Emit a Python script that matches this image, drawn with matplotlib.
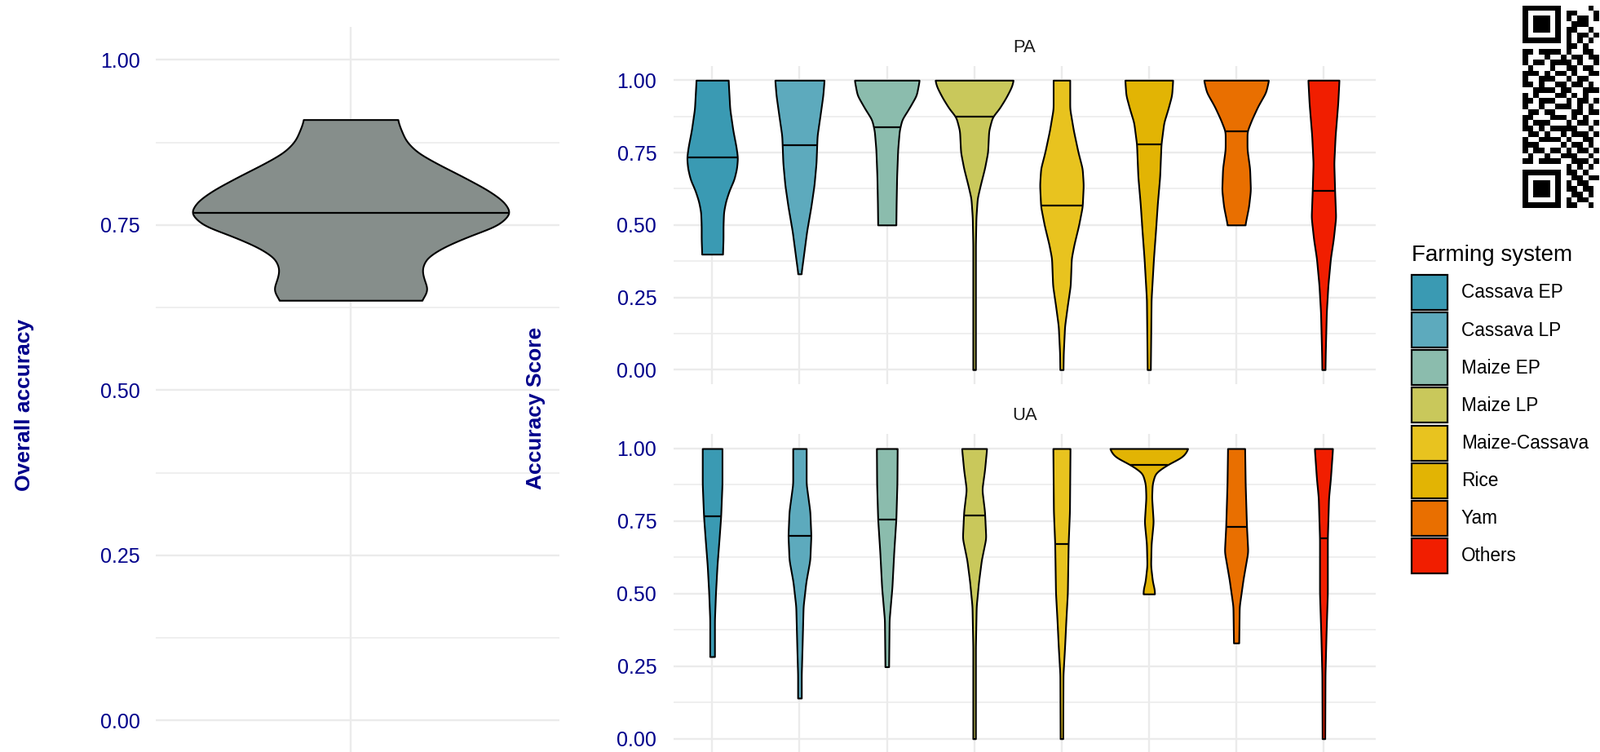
import numpy as np
import matplotlib
matplotlib.use("Agg")
from matplotlib import pyplot as plt
from matplotlib import transforms
from matplotlib.patches import Patch

plt.rcParams['font.family'] = ['Liberation Sans', 'DejaVu Sans']

W, H = 1962, 922

systems = ["Cassava EP", "Cassava LP", "Maize EP", "Maize LP",
           "Maize-Cassava", "Rice", "Yam", "Others"]
colours = ["#3A9AB3", "#5DAABD", "#8BBCAD", "#C9C85B",
           "#E8C31F", "#E2B404", "#E96F00", "#F11E00"]
ticks = [0.0, 0.25, 0.5, 0.75, 1.0]
tick_labels = ["0.00", "0.25", "0.50", "0.75", "1.00"]

# overall accuracy violin, half width (x units) read at several scores
oa_score = [0.9095, 0.897, 0.877, 0.860, 0.844, 0.823, 0.803, 0.786, 0.768,
            0.749, 0.733, 0.716, 0.700, 0.683, 0.667, 0.653, 0.642, 0.636]
oa_width = [0.131, 0.139, 0.155, 0.186, 0.238, 0.315, 0.384, 0.429, 0.450,
            0.413, 0.331, 0.258, 0.212, 0.199, 0.206, 0.217, 0.208, 0.196]
oa_median = 0.768

# producer's accuracy (PA)
pa_score = [
    [1.000, 0.901, 0.826, 0.770, 0.732, 0.695, 0.657, 0.620, 0.582, 0.545, 0.498, 0.451, 0.399],
    [1.000, 0.948, 0.883, 0.808, 0.714, 0.638, 0.563, 0.479, 0.385, 0.331],
    [1.000, 0.948, 0.901, 0.864, 0.826, 0.761, 0.667, 0.573, 0.500],
    [1.000, 0.977, 0.939, 0.901, 0.873, 0.826, 0.751, 0.695, 0.638, 0.592, 0.526, 0.432, 0.000],
    [1.000, 0.901, 0.826, 0.751, 0.695, 0.638, 0.563, 0.498, 0.432, 0.385, 0.291, 0.216, 0.150, 0.056, 0.000],
    [1.000, 0.948, 0.901, 0.854, 0.779, 0.667, 0.573, 0.479, 0.385, 0.244, 0.000],
    [1.000, 0.958, 0.911, 0.864, 0.823, 0.761, 0.695, 0.620, 0.563, 0.500],
    [1.000, 0.920, 0.808, 0.714, 0.620, 0.526, 0.451, 0.385, 0.291, 0.197, 0.056, 0.000],
]
pa_width = [
    [0.184, 0.202, 0.238, 0.274, 0.291, 0.280, 0.250, 0.196, 0.155, 0.131, 0.125, 0.125, 0.119],
    [0.282, 0.268, 0.238, 0.202, 0.190, 0.167, 0.131, 0.083, 0.042, 0.018],
    [0.372, 0.339, 0.250, 0.172, 0.143, 0.125, 0.113, 0.107, 0.104],
    [0.449, 0.428, 0.363, 0.285, 0.208, 0.167, 0.155, 0.119, 0.071, 0.036, 0.021, 0.015, 0.015],
    [0.095, 0.095, 0.137, 0.190, 0.238, 0.250, 0.238, 0.196, 0.143, 0.113, 0.101, 0.065, 0.036, 0.021, 0.018],
    [0.274, 0.262, 0.220, 0.172, 0.140, 0.125, 0.098, 0.077, 0.054, 0.027, 0.018],
    [0.372, 0.339, 0.250, 0.178, 0.125, 0.125, 0.155, 0.164, 0.143, 0.101],
    [0.178, 0.164, 0.134, 0.119, 0.128, 0.140, 0.113, 0.080, 0.051, 0.033, 0.021, 0.018],
]
pa_median = [0.732, 0.775, 0.838, 0.873, 0.566, 0.777, 0.823, 0.617]

# user's accuracy (UA)
ua_score = [
    [1.000, 0.878, 0.766, 0.691, 0.597, 0.503, 0.410, 0.283],
    [1.000, 0.878, 0.784, 0.700, 0.616, 0.541, 0.456, 0.316, 0.222, 0.140],
    [1.000, 0.878, 0.756, 0.644, 0.522, 0.410, 0.248],
    [1.000, 0.925, 0.859, 0.784, 0.691, 0.616, 0.541, 0.456, 0.316, 0.000],
    [1.000, 0.784, 0.672, 0.503, 0.410, 0.316, 0.222, 0.000],
    [1.000, 0.972, 0.944, 0.916, 0.878, 0.831, 0.747, 0.672, 0.597, 0.541, 0.513, 0.499],
    [1.000, 0.878, 0.731, 0.644, 0.550, 0.456, 0.330],
    [1.000, 0.897, 0.831, 0.691, 0.503, 0.363, 0.222, 0.000],
]
ua_width = [
    [0.113, 0.113, 0.098, 0.080, 0.056, 0.039, 0.027, 0.027],
    [0.077, 0.077, 0.119, 0.131, 0.119, 0.074, 0.042, 0.030, 0.021, 0.021],
    [0.119, 0.116, 0.104, 0.080, 0.059, 0.027, 0.021],
    [0.143, 0.119, 0.089, 0.119, 0.134, 0.083, 0.051, 0.024, 0.015, 0.015],
    [0.098, 0.092, 0.077, 0.068, 0.051, 0.036, 0.018, 0.015],
    [0.452, 0.393, 0.208, 0.074, 0.039, 0.033, 0.051, 0.027, 0.021, 0.042, 0.065, 0.065],
    [0.098, 0.104, 0.119, 0.134, 0.080, 0.036, 0.030],
    [0.104, 0.080, 0.059, 0.045, 0.045, 0.030, 0.018, 0.015],
]
ua_median = [0.766, 0.700, 0.756, 0.770, 0.672, 0.944, 0.731, 0.691]

# QR code in the top right corner (only the visible columns)
qr_rows = [
    "11111110000010", "10000010110001", "10111010101101", "10111010011100",
    "10111010110010", "10000010101101", "11111110101010", "00000000110100",
    "11011110100110", "10001001011011", "10110111101001", "01000100110110",
    "11101011010011", "10011100101100", "11010011011010", "00111101100111",
    "10100011010100", "11011100101101", "10010011101010", "01101100011011",
    "11000111010100", "10111000101101", "11010111110010", "01101001011101",
    "10011110100110", "11100001011010", "10110110101101", "01001001110010",
    "11011110011101", "00000000101010", "11111110110100", "10000010011011",
    "10111010101100", "10111010110110", "10111010011010", "10000010101100",
    "11111110110010",
]


def smooth_profile(score, width, sigma, n=500):
    s = np.asarray(score, dtype=float)
    w = np.asarray(width, dtype=float)
    order = np.argsort(s)
    s, w = s[order], w[order]
    y = np.linspace(s[0], s[-1], n)
    hw = np.interp(y, s, w)
    step = y[1] - y[0]
    k = int(3 * sigma / step) + 1
    kern = np.exp(-0.5 * (np.arange(-k, k + 1) * step / sigma) ** 2)
    kern /= kern.sum()
    hw = np.convolve(np.pad(hw, k, mode='edge'), kern, mode='valid')
    return y, hw


def draw_violin(ax, pos, score, width, median, colour, sigma=0.009):
    y, hw = smooth_profile(score, width, sigma)
    ax.fill_betweenx(y, pos - hw, pos + hw, facecolor=colour,
                     edgecolor='black', linewidth=1.5, zorder=3)
    m = np.interp(median, y, hw)
    ax.plot([pos - m, pos + m], [median, median], color='black',
            lw=1.6, solid_capstyle='butt', zorder=4)


def px_axes(fig, x0, y0, x1, y1):
    return fig.add_axes([x0 / W, 1 - y1 / H, (x1 - x0) / W, (y1 - y0) / H])


def style_axis(ax, pad):
    ax.set_ylim(-0.05, 1.05)
    ax.set_yticks(ticks)
    ax.set_yticklabels(tick_labels)
    ax.set_yticks([0.125, 0.375, 0.625, 0.875], minor=True)
    ax.grid(which='major', color='#EBEBEB', lw=1.7)
    ax.grid(which='minor', axis='y', color='#EBEBEB', lw=1.1)
    ax.tick_params(which='both', length=0, labelsize=18,
                   labelcolor='darkblue', pad=pad)
    ax.tick_params(axis='x', labelbottom=False)
    for s in ax.spines.values():
        s.set_visible(False)
    ax.set_axisbelow(True)


fig = plt.figure(figsize=(W / 100, H / 100), dpi=100)

# left: overall accuracy
ax0 = px_axes(fig, 191, 32.8, 686, 924)
style_axis(ax0, 14)
ax0.set_xlim(0.454, 1.585)
ax0.set_xticks([1])
draw_violin(ax0, 1, oa_score, oa_width, oa_median, "#868E8B", sigma=0.006)

# right: PA and UA facets
facets = [("PA", 80.6, 471.0, pa_score, pa_width, pa_median),
          ("UA", 532.2, 923.5, ua_score, ua_width, ua_median)]
for name, top, bottom, scores, widths, medians in facets:
    ax = px_axes(fig, 826, top, 1687, bottom)
    style_axis(ax, 15)
    ax.set_xlim(0.558, 8.598)
    ax.set_xticks(np.arange(1, len(systems) + 1))
    for i in range(len(systems)):
        draw_violin(ax, i + 1, scores[i], widths[i], medians[i], colours[i])
    off = transforms.ScaledTranslation(0, 22.3 / 100, fig.dpi_scale_trans)
    ax.text(0.5, 1.0, name, transform=ax.transAxes + off, ha='center',
            va='center', fontsize=15.8, color='#1A1A1A')

fig.text(30 / W, 1 - 497 / H, "Overall accuracy", rotation=90, ha='center',
         va='center', fontsize=19, fontweight='bold', color='darkblue')
fig.text(657 / W, 1 - 500 / H, "Accuracy Score", rotation=90, ha='center',
         va='center', fontsize=19, fontweight='bold', color='darkblue')

# legend keys: 43 px squares, rows 46 px apart
handles = [Patch(facecolor=c, edgecolor='black', linewidth=1.6) for c in colours]
fs = 16.3 * 100 / 72
hh = (43 / fs - 0.245) / 0.65
leg = fig.legend(handles, systems, loc='upper left',
                 bbox_to_anchor=(1731 / W, 1 - 300 / H), frameon=False,
                 title="Farming system", title_fontsize=20, fontsize=16.3,
                 handlelength=43.7 / fs, handleheight=hh,
                 labelspacing=3.1 / fs, handletextpad=17 / fs,
                 borderpad=0, borderaxespad=0, alignment='left')
leg._legend_box.sep = 8

qr = np.array([[int(ch) for ch in row] for row in qr_rows])
axq = px_axes(fig, 1867, 6.7, 1867 + qr.shape[1] * 6.71, 6.7 + qr.shape[0] * 6.71)
axq.imshow(qr, cmap='gray_r', interpolation='nearest', aspect='auto')
axq.axis('off')

fig.savefig("out.png", dpi=100)
